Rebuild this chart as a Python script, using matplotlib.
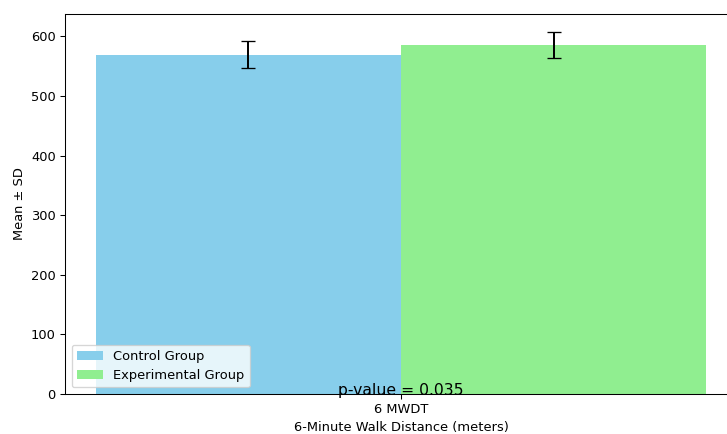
import numpy as np
import matplotlib
matplotlib.use("Agg")
import matplotlib.pyplot as plt

# data
labels = ["6 MWDT"]
control_mean = [569]
control_sd = [22.5]
exp_mean = [585]
exp_sd = [22]
p_value = 0.035

x = np.arange(len(labels))
width = 0.4

# reference looks like a slightly scaled-down render, so use dpi 94
dpi = 94
fig = plt.figure(figsize=(727 / dpi, 434 / dpi), dpi=dpi)
# the reference is cropped on the right, so the axes runs past the edge
ax = fig.add_axes([65 / 727, 40 / 434, (737 - 65) / 727, (394 - 14) / 434])

ax.bar(x - width / 2, control_mean, width, yerr=control_sd, capsize=5,
       color="skyblue", label="Control Group")
ax.bar(x + width / 2, exp_mean, width, yerr=exp_sd, capsize=5,
       color="lightgreen", label="Experimental Group")

ax.set_xticks(x)
ax.set_xticklabels(labels)
ax.set_xlabel("6-Minute Walk Distance (meters)")
ax.set_ylabel("Mean ± SD")
ax.legend(loc="lower left")

ax.text(0, 6, f"p-value = {p_value}", ha="center", va="center", fontsize=12)

fig.savefig("out.png", dpi=dpi)
